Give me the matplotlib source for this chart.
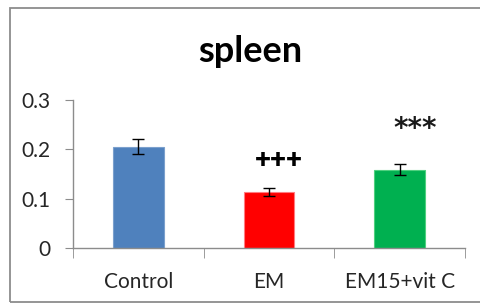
import matplotlib
matplotlib.use("Agg")
import matplotlib.pyplot as plt
from matplotlib.patches import Rectangle

categories = ["Control", "EM", "EM15+vit C"]
values = [0.205, 0.114, 0.159]
errors = [0.015, 0.008, 0.011]
colors = ["#4F81BD", "#FF0000", "#00B050"]
edge_colors = ["#7BA0CD", "#FF7C80", "#4FD07F"]
annotations = ["", "+++", "***"]
yticks = [0, 0.1, 0.2, 0.3]
ytick_labels = ["0", "0.1", "0.2", "0.3"]

plt.rcParams['font.family'] = ['Lato', 'DejaVu Sans']

fig = plt.figure(figsize=(4.8, 3.04), dpi=100)
fig.patch.set_facecolor("white")
fig.patches.append(Rectangle((10/480, 1-302/304), 1.0, 294/304, transform=fig.transFigure,
                             fill=False, edgecolor="#8C8C8C", linewidth=1.3))

ax = fig.add_axes([73/480, 1-248/304, (465-73)/480, 148/304])
x = list(range(len(categories)))
ax.bar(x, values, width=0.39, color=colors, edgecolor=edge_colors, linewidth=0.8, zorder=2)
ax.errorbar(x, values, yerr=errors, fmt="none", ecolor="black", elinewidth=1.0,
            capsize=4, capthick=1.0, zorder=3)
ax.set_xlim(-0.5, 2.5)
ax.set_ylim(0, 0.3)
ax.set_yticks(yticks)
ax.set_yticklabels(ytick_labels)
ax.set_xticks(x)
ax.set_xticklabels(categories)
ax.tick_params(axis="x", length=0, pad=17, labelsize=15, labelcolor="#262626")
ax.tick_params(axis="y", length=6, color="#8C8C8C", labelsize=15, labelcolor="#262626", pad=10)
ax.set_xticks([-0.5, 0.5, 1.5, 2.5], minor=True)
ax.tick_params(axis="x", which="minor", length=7, color="#8C8C8C", direction="out")
for s in ["top", "right"]:
    ax.spines[s].set_visible(False)
for s in ["left", "bottom"]:
    ax.spines[s].set_color("#8C8C8C")
    ax.spines[s].set_linewidth(1.0)

ax.annotate(annotations[1], xy=(x[1], values[1] + errors[1]), xytext=(10, 28),
            textcoords="offset pixels", ha="center", va="center", fontsize=20,
            fontweight="heavy", color="black")
ax.annotate(annotations[2], xy=(x[2], values[2] + errors[2]), xytext=(16, 27),
            textcoords="offset pixels", ha="center", va="baseline", fontsize=20,
            fontweight="bold", color="#1a1a1a", family="DejaVu Sans")

fig.text(250/480, 1-52/304, "spleen", ha="center", va="center", fontsize=26,
         fontweight="bold", color="black")

fig.savefig("out.png", dpi=100, facecolor="white")
